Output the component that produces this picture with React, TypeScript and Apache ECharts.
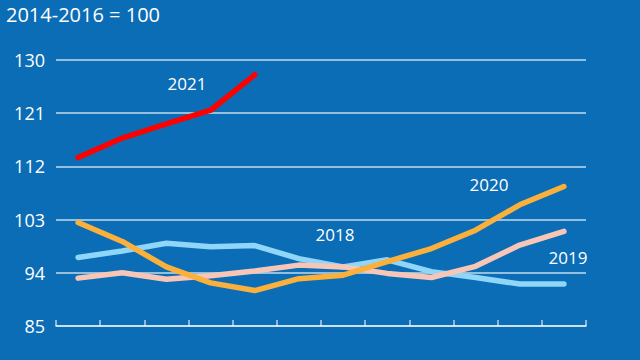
import React, { useEffect, useRef } from "react";
import * as echarts from "echarts";

const months = ["Jan", "Feb", "Mar", "Apr", "May", "Jun", "Jul", "Aug", "Sep", "Oct", "Nov", "Dec"];
const yTicks = { min: 85, max: 130, interval: 9 };
const s2021 = [113.5, 116.8, 119.2, 121.5, 127.5];
const s2020 = [102.5, 99.3, 95.0, 92.3, 91.0, 93.0, 93.6, 95.9, 98.1, 101.2, 105.5, 108.6];
const s2019 = [93.1, 94.0, 92.9, 93.5, 94.3, 95.3, 95.0, 93.9, 93.2, 95.1, 98.7, 101.0];
const s2018 = [96.6, 97.7, 99.0, 98.4, 98.6, 96.4, 95.0, 96.2, 94.2, 93.2, 92.1, 92.1];
const unitLabel = "2014-2016 = 100";

const FONT = "'Open Sans', 'Noto Sans', sans-serif";

export default function App() {
  const ref = useRef<HTMLDivElement>(null);
  useEffect(() => {
    if (!ref.current) return;
    const chart = echarts.init(ref.current, null, { renderer: "svg" });
    const line = (name: string, data: number[], color: string, z: number) => ({
      name,
      type: "line",
      data,
      symbol: "none",
      z,
      lineStyle: { color, width: 5.5, cap: "round", join: "round" },
    });
    const lbl = (text: string, x: number, y: number) => ({
      type: "text",
      x,
      y,
      style: { text, fill: "#fff", fontSize: 17, fontFamily: FONT, align: "center", verticalAlign: "middle" },
    });
    chart.setOption({
      animation: false,
      backgroundColor: "#0b6db6",
      textStyle: { fontFamily: FONT },
      grid: { left: 56, right: 54, top: 60, bottom: 34, containLabel: false },
      xAxis: {
        type: "category",
        data: months,
        boundaryGap: true,
        axisLine: { show: true, lineStyle: { color: "rgba(255,255,255,0.7)", width: 1.5 } },
        axisTick: { show: true, inside: true, length: 6, lineStyle: { color: "rgba(255,255,255,0.7)", width: 1.5 } },
        axisLabel: { show: false },
        splitLine: { show: false },
      },
      yAxis: {
        type: "value",
        min: yTicks.min,
        max: yTicks.max,
        interval: yTicks.interval,
        axisLine: { show: false },
        axisTick: { show: false },
        axisLabel: { color: "#ffffff", fontSize: 18, fontFamily: FONT, margin: 11 },
        splitLine: { show: true, lineStyle: { color: "rgba(255,255,255,0.75)", width: 1.5 } },
      },
      graphic: [
        { type: "text", left: 6, top: 4, style: { text: unitLabel, fill: "#fff", fontSize: 20, fontFamily: FONT } },
        lbl("2021", 187, 83),
        lbl("2020", 489, 184),
        lbl("2018", 335, 234),
        lbl("2019", 568, 257),
      ],
      series: [
        line("2018", s2018, "#8fd6f8", 2),
        line("2019", s2019, "#f8c6b6", 3),
        line("2020", s2020, "#fbb03b", 4),
        line("2021", s2021, "#ff0000", 5),
      ],
    });
    return () => chart.dispose();
  }, []);
  return <div ref={ref} style={{ width: 640, height: 360, position: "absolute", left: 0, top: 0 }} />;
}
